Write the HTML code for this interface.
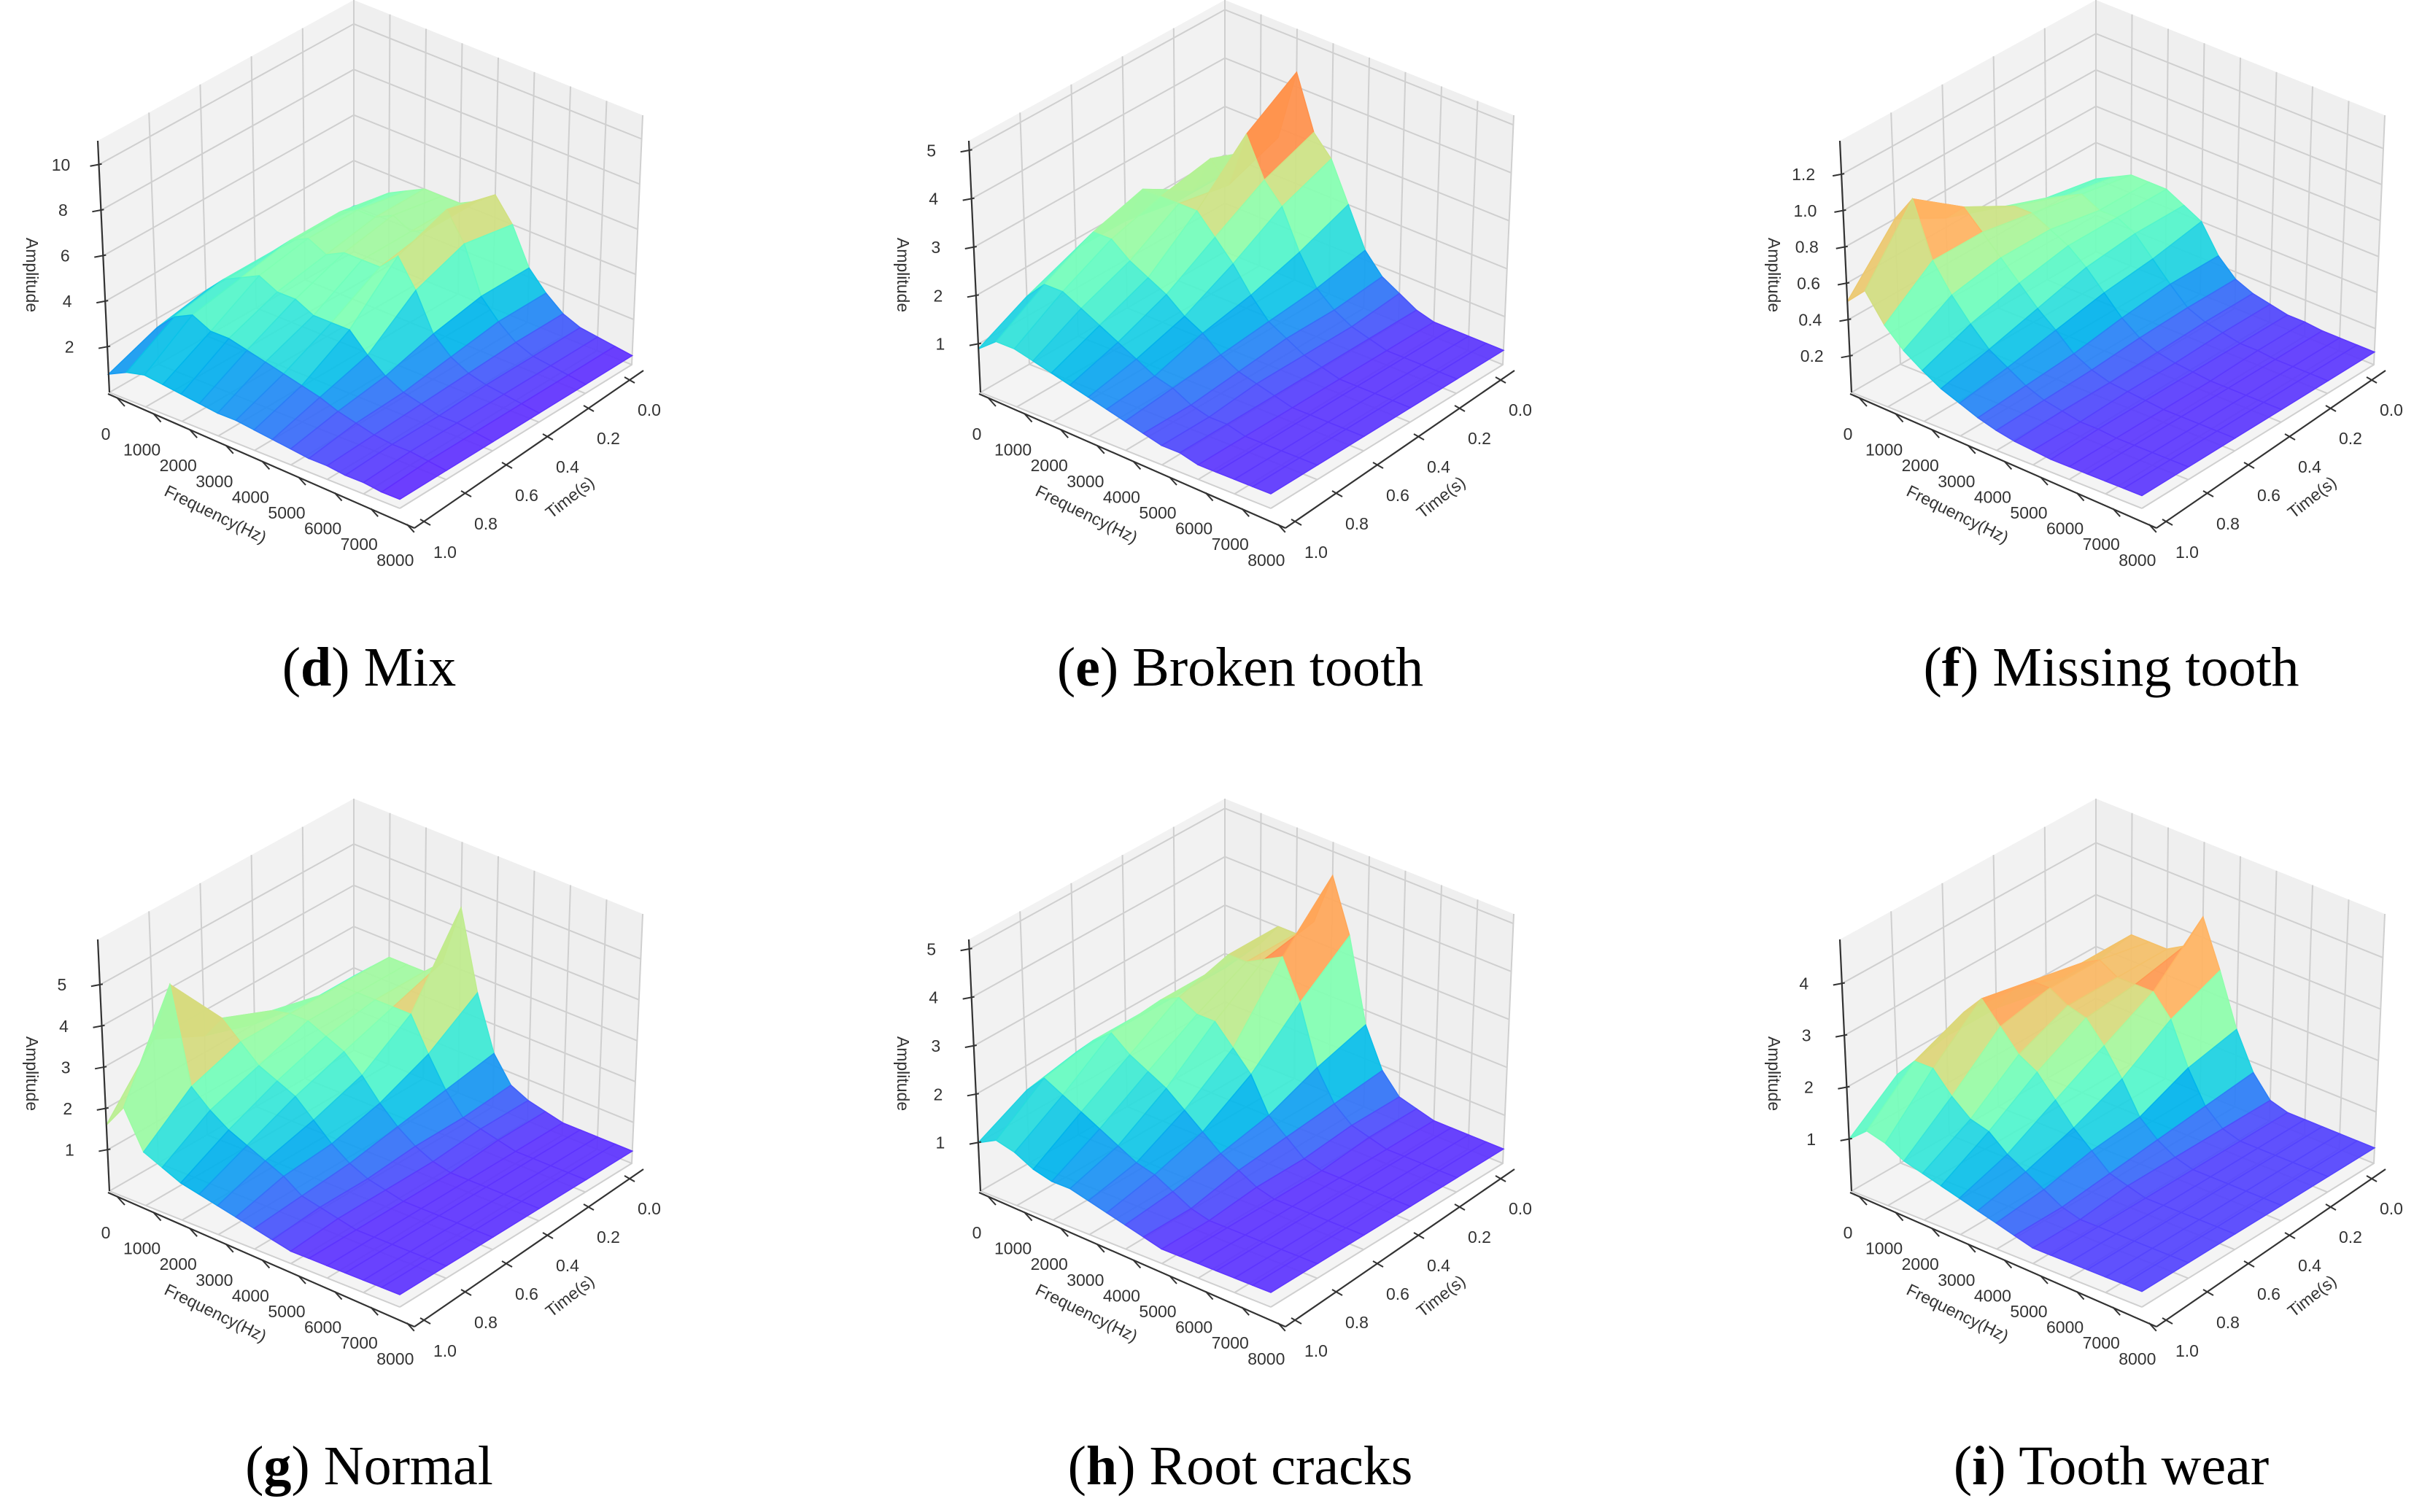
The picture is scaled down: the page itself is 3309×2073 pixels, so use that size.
<!DOCTYPE html>
<html><head><meta charset="utf-8">
<style>
html,body{margin:0;padding:0;background:#fff;}
svg{display:block;}
.tk{font-family:"Liberation Sans",sans-serif;font-size:23px;fill:#333;}
.cap{font-family:"Liberation Serif",serif;font-size:76px;fill:#000;}
</style></head>
<body>
<svg id="fig" width="3309" height="2073" viewBox="0 0 3309 2073" xmlns="http://www.w3.org/2000/svg">
<rect x="0" y="0" width="3309" height="2073" fill="#fff"/>
</svg>
<script>
// ---- data ----
const freqs = [0,500,1000,1500,2000,2500,3000,3500,4000,4500,5000,5500,6000,6500,7000,7500,8000];
const times = [0,0.2,0.4,0.6,0.8,1.0];
const freqTicks = [0,1000,2000,3000,4000,5000,6000,7000,8000];
const timeTicks = [0,0.2,0.4,0.6,0.8,1.0];
const timeTickLabels = ["0.0","0.2","0.4","0.6","0.8","1.0"];
const panelIds = ["d","e","f","g","h","i"];
const panelTitles = ["Mix","Broken tooth","Missing tooth","Normal","Root cracks","Tooth wear"];
const zTops = [11.05,5.2,1.385,6.1,5.2,4.85];
const zTicksD = [2,4,6,8,10];
const zTicksE = [1,2,3,4,5];
const zTicksF = [0.2,0.4,0.6,0.8,1.0,1.2];
const zTicksG = [1,2,3,4,5];
const zTicksH = [1,2,3,4,5];
const zTicksI = [1,2,3,4];
const zTickLabelsF = ["0.2","0.4","0.6","0.8","1.0","1.2"];
const colorMax = [7.2,4.3,1.0,4.6,4.5,3.5];
const ampD = [
 [2,2.5,3.2,3.6,4,4,4,4.4,5,4,2.4,1.6,1,0.7,0.6,0.5,0.4],
 [2,2.8,3.6,4,4,4.4,4,4.4,5.6,4.4,2.4,1.6,1,0.7,0.6,0.5,0.4],
 [2,2.8,3.6,4,3.6,4,4,4,4.8,3.6,2,1.3,0.9,0.7,0.6,0.5,0.4],
 [2,2.8,3.2,3.6,3.2,3.2,2.8,2.8,2.8,2,1.4,1,0.8,0.6,0.6,0.5,0.4],
 [1.6,2.4,2.8,2.4,2.4,2.2,2,1.8,1.6,1.4,1.1,0.9,0.7,0.6,0.6,0.5,0.4],
 [0.8,1.2,1.4,1.3,1.2,1.1,1,1,0.9,0.8,0.7,0.6,0.6,0.5,0.5,0.4,0.4]];
const ampE = [
 [1.6,2,2.4,2.8,4.3,3.2,2.8,2,1.2,0.8,0.6,0.4,0.3,0.3,0.3,0.3,0.3],
 [1.6,2,2.8,2.4,3.6,2.8,2.4,1.6,1,0.7,0.5,0.4,0.3,0.3,0.3,0.3,0.3],
 [1.8,2.6,2.6,2.6,2.6,2.2,1.8,1.3,0.9,0.7,0.5,0.4,0.3,0.3,0.3,0.3,0.3],
 [1.8,2.3,2.3,2,1.8,1.6,1.3,1.1,0.8,0.6,0.5,0.4,0.3,0.3,0.3,0.3,0.3],
 [1.4,1.8,1.8,1.6,1.4,1.2,1,0.8,0.7,0.5,0.4,0.4,0.3,0.3,0.3,0.3,0.3],
 [0.9,1.2,1.2,1.1,1,0.9,0.8,0.7,0.6,0.5,0.4,0.4,0.3,0.3,0.3,0.3,0.3]];
const ampF = [
 [0.4,0.45,0.5,0.5,0.5,0.45,0.4,0.25,0.16,0.12,0.1,0.08,0.08,0.07,0.07,0.07,0.07],
 [0.45,0.5,0.55,0.5,0.5,0.45,0.35,0.25,0.16,0.12,0.1,0.08,0.08,0.07,0.07,0.07,0.07],
 [0.55,0.6,0.6,0.55,0.5,0.42,0.32,0.22,0.15,0.11,0.09,0.08,0.07,0.07,0.07,0.07,0.07],
 [0.65,0.75,0.65,0.55,0.45,0.35,0.27,0.18,0.13,0.1,0.09,0.08,0.07,0.07,0.07,0.07,0.07],
 [0.8,0.95,0.65,0.5,0.38,0.28,0.22,0.16,0.12,0.1,0.08,0.08,0.07,0.07,0.07,0.07,0.07],
 [0.5,0.6,0.45,0.35,0.28,0.22,0.18,0.14,0.11,0.09,0.08,0.07,0.07,0.07,0.07,0.07,0.07]];
const ampG = [
 [1.8,2.2,2.6,2.6,2.6,3,4.5,2.6,1.3,0.7,0.5,0.4,0.3,0.3,0.3,0.3,0.3],
 [1.8,2.2,2.6,2.6,2.6,2.6,2.6,1.8,1.1,0.6,0.5,0.4,0.3,0.3,0.3,0.3,0.3],
 [2,2.5,2.6,2.6,2.4,2.2,1.8,1.3,0.9,0.6,0.4,0.3,0.3,0.3,0.3,0.3,0.3],
 [2.4,3,2.6,2.2,2,1.8,1.4,1,0.7,0.5,0.4,0.3,0.3,0.3,0.3,0.3,0.3],
 [3,4.5,2.2,1.8,1.5,1.3,1.1,0.9,0.6,0.5,0.4,0.3,0.3,0.3,0.3,0.3,0.3],
 [1.6,2.2,1.3,1.1,0.9,0.8,0.7,0.6,0.5,0.4,0.3,0.3,0.3,0.3,0.3,0.3,0.3]];
const ampH = [
 [1.7,2.1,2.5,3,3,3.4,4.5,3.4,1.7,0.9,0.5,0.4,0.3,0.3,0.3,0.3,0.3],
 [1.7,2.1,2.5,3,3,3.2,3.4,2.6,1.4,0.8,0.5,0.4,0.3,0.3,0.3,0.3,0.3],
 [1.7,2.1,2.5,2.7,2.5,2.5,2.1,1.7,1,0.7,0.4,0.3,0.3,0.3,0.3,0.3,0.3],
 [1.7,2.1,2.4,2.1,1.9,1.7,1.4,1.1,0.8,0.6,0.4,0.3,0.3,0.3,0.3,0.3,0.3],
 [1.5,1.9,1.7,1.5,1.3,1.1,0.9,0.8,0.6,0.4,0.3,0.3,0.3,0.3,0.3,0.3,0.3],
 [1,1.2,1.1,0.9,0.8,0.8,0.7,0.6,0.5,0.4,0.3,0.3,0.3,0.3,0.3,0.3,0.3]];
const ampI = [
 [1.7,2.1,2.5,2.5,2.5,2.7,3.4,2.5,1.5,0.8,0.4,0.3,0.3,0.3,0.3,0.3,0.3],
 [1.7,2.1,2.5,2.7,2.5,2.5,2.5,2.1,1.3,0.7,0.4,0.3,0.3,0.3,0.3,0.3,0.3],
 [1.9,2.4,2.7,2.7,2.5,2.4,2,1.5,0.9,0.6,0.4,0.3,0.3,0.3,0.3,0.3,0.3],
 [1.9,2.5,2.9,2.5,2.1,1.9,1.5,1.1,0.8,0.5,0.4,0.3,0.3,0.3,0.3,0.3,0.3],
 [1.7,2.1,2.1,1.7,1.4,1.3,1,0.8,0.6,0.4,0.3,0.3,0.3,0.3,0.3,0.3,0.3],
 [1,1.3,1.2,1,0.9,0.8,0.7,0.6,0.5,0.4,0.3,0.3,0.3,0.3,0.3,0.3,0.3]];
const amps = [ampD,ampE,ampF,ampG,ampH,ampI];
const zTickSets = [zTicksD,zTicksE,zTicksF,zTicksG,zTicksH,zTicksI];

// ---- geometry (layout, not data) ----
const NS = "http://www.w3.org/2000/svg";
const svg = document.getElementById('fig');
const colX = [0,1194,2388], rowY = [0,1095];
const CB={x:485,y:345}, CR={x:866,y:500}, CF={x:548,y:697}, CL={x:150,y:538};
const UB={x:0,y:-345}, UR={x:15,y:-342}, UF={x:0,y:-345}, UL={x:-16,y:-345};
function bil(a,b,c,d,u,v){
  return {x:(1-u)*(1-v)*a.x+u*(1-v)*b.x+u*v*c.x+(1-u)*v*d.x,
          y:(1-u)*(1-v)*a.y+u*(1-v)*b.y+u*v*c.y+(1-u)*v*d.y};
}
function mk(tag,attrs,parent){const e=document.createElementNS(NS,tag);for(const k in attrs)e.setAttribute(k,attrs[k]);(parent||svg).appendChild(e);return e;}
function rainbow(x){x=Math.max(0,Math.min(1,x));
  const r=Math.min(1,Math.abs(2*x-0.5)),g=Math.sin(Math.PI*x),b=Math.cos(Math.PI*x/2);
  return `rgb(${Math.round(r*255)},${Math.round(g*255)},${Math.round(b*255)})`;}

panelIds.forEach((pid,pi)=>{
  const ox=colX[pi%3], oy=rowY[Math.floor(pi/3)];
  const zTop=zTops[pi];
  function P(f,t,z){const u=f/8000,v=t/1.0;const fl=bil(CB,CR,CF,CL,u,v),up=bil(UB,UR,UF,UL,u,v);const k=z/zTop;return {x:ox+fl.x+up.x*k,y:oy+fl.y+up.y*k};}
  const g=mk('g',{});
  
  
  const pts=a=>a.map(p=>p.x.toFixed(1)+','+p.y.toFixed(1)).join(' ');
  const paneL=mk('polygon',{points:pts([P(0,1,0),P(0,0,0),P(0,0,zTop),P(0,1,zTop)]),fill:'#f2f2f2'},g);
  
  const paneR=mk('polygon',{points:pts([P(0,0,0),P(8000,0,0),P(8000,0,zTop),P(0,0,zTop)]),fill:'#efefef'},g);
  
  const paneF=mk('polygon',{points:pts([P(0,0,0),P(8000,0,0),P(8000,1,0),P(0,1,0)]),fill:'#f4f4f4'},g);
  
  const grid=mk('g',{stroke:'#cfcfcf','stroke-width':2,fill:'none'},g);
  
  freqTicks.forEach(f=>{ mk('polyline',{points:pts([P(f,1,0),P(f,0,0),P(f,0,zTop)])},grid); });
  timeTicks.forEach(t=>{ mk('polyline',{points:pts([P(8000,t,0),P(0,t,0),P(0,t,zTop)])},grid); });
  zTickSets[pi].forEach(z=>{ mk('polyline',{points:pts([P(0,1,z),P(0,0,z),P(8000,0,z)])},grid); });
  const surf=mk('g',{},g);
  
  const A=amps[pi], cm=colorMax[pi];
  for(let i=0;i<freqs.length-1;i++){
    for(let j=0;j<times.length-1;j++){
      const z00=A[j][i],z10=A[j][i+1],z11=A[j+1][i+1],z01=A[j+1][i];
      const avg=(z00+z10+z11+z01)/4;
      const c=rainbow(avg/cm);
      const q=mk('polygon',{points:pts([P(freqs[i],times[j],z00),P(freqs[i+1],times[j],z10),P(freqs[i+1],times[j+1],z11),P(freqs[i],times[j+1],z01)]),fill:c,stroke:c,'stroke-width':1.5,'fill-opacity':0.93},surf);
      
      
    }
  }
  const za=mk('g',{},g);
  
  const a0=P(0,1,0),a1=P(0,1,zTop);
  mk('line',{x1:a0.x,y1:a0.y,x2:a1.x,y2:a1.y,stroke:'#333','stroke-width':2.2},za);
  zTickSets[pi].forEach((z,k)=>{
    const p=P(0,1,z);
    mk('line',{x1:p.x-12,y1:p.y+2,x2:p.x+4,y2:p.y-1,stroke:'#333','stroke-width':2},za);
    const tx=mk('text',{x:p.x-52,y:p.y+8,'text-anchor':'middle',class:'tk'},za);
    tx.textContent = pi===2 ? zTickLabelsF[k] : String(z);
    
    
  });
  const al=mk('text',{x:0,y:0,'text-anchor':'middle',class:'tk',transform:`translate(${ox+36},${oy+377}) rotate(90)`},za);
  al.textContent='Amplitude';
  
  const fa=mk('g',{},g);
  
  mk('line',{x1:ox+148,y1:oy+540,x2:ox+568,y2:oy+724,stroke:'#333','stroke-width':2.2},fa);
  freqTicks.forEach(f=>{
    const k=f/1000;
    const lx=ox+145+49.6*k, ly=oy+595+21.6*k;
    const tx0=lx+20, ty0=ly-47;
    mk('line',{x1:tx0-4,y1:ty0-2,x2:tx0+6,y2:ty0+9,stroke:'#333','stroke-width':2},fa);
    const t=mk('text',{x:lx,y:ly+8,'text-anchor':'middle',class:'tk'},fa);
    t.textContent=String(f);
    
    
  });
  const fl=mk('text',{x:0,y:0,'text-anchor':'middle',class:'tk',transform:`translate(${ox+292},${oy+712}) rotate(26)`},fa);
  fl.textContent='Frequency(Hz)';
  
  const ta=mk('g',{},g);
  
  mk('line',{x1:ox+882,y1:oy+508,x2:ox+568,y2:oy+724,stroke:'#333','stroke-width':2.2},ta);
  timeTicks.forEach((t,k)=>{
    const s=t/0.2;
    const lx=ox+890-56*s, ly=oy+562+39*s;
    const tx0=lx-27, ty0=ly-42;
    mk('line',{x1:tx0-7,y1:ty0-3,x2:tx0+7,y2:ty0+5,stroke:'#333','stroke-width':2},ta);
    const tt=mk('text',{x:lx,y:ly+8,'text-anchor':'middle',class:'tk'},ta);
    tt.textContent=timeTickLabels[k];
    
    
  });
  const tl=mk('text',{x:0,y:0,'text-anchor':'middle',class:'tk',transform:`translate(${ox+786},${oy+688}) rotate(-38)`},ta);
  tl.textContent='Time(s)';
  
  const cap=mk('text',{x:ox+506,y:oy+940,'text-anchor':'middle',class:'cap'},g);
  
  
  const t1=mk('tspan',{},cap);t1.textContent='(';
  const t2=mk('tspan',{'font-weight':'bold'},cap);t2.textContent=pid;
  const t3=mk('tspan',{},cap);t3.textContent=') '+panelTitles[pi];
});
</script>
</body></html>
